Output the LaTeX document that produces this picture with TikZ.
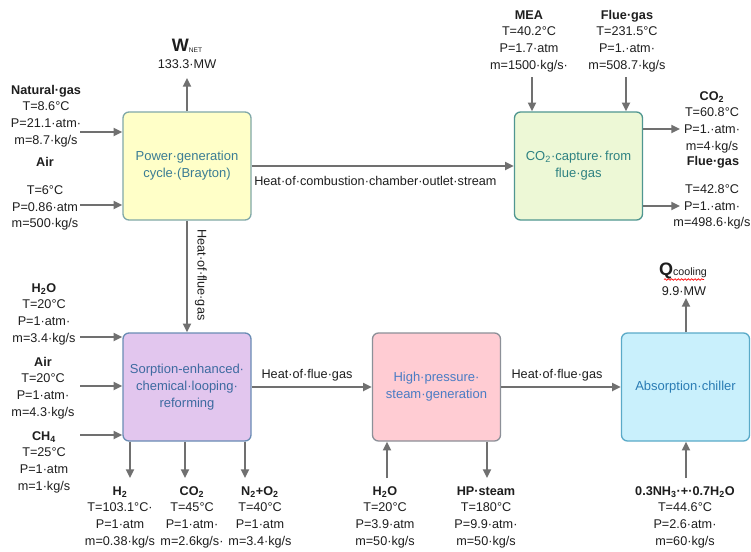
\documentclass[tikz,border=0pt]{standalone}
\usepackage{fontspec}
\setmainfont{Liberation Sans}
\usetikzlibrary{arrows.meta,decorations.pathmorphing}
\definecolor{pgfill}{HTML}{FFFFC8}\definecolor{pgdraw}{HTML}{80A8A8}\definecolor{pgtext}{HTML}{3A7C94}
\definecolor{ccfill}{HTML}{EDF8D6}\definecolor{ccdraw}{HTML}{4F9690}\definecolor{cctext}{HTML}{2E8282}
\definecolor{srfill}{HTML}{E2C6EE}\definecolor{srdraw}{HTML}{6A8CB4}\definecolor{srtext}{HTML}{3D6AA0}
\definecolor{hpfill}{HTML}{FFCCD3}\definecolor{hpdraw}{HTML}{8C9098}\definecolor{hptext}{HTML}{4A7CC4}
\definecolor{acfill}{HTML}{C9F0FC}\definecolor{acdraw}{HTML}{5AAAC8}\definecolor{actext}{HTML}{2A7CB4}
\definecolor{arr}{HTML}{707070}\definecolor{txt}{HTML}{1E1E1E}
\begin{document}
\begin{tikzpicture}[x=0.75pt,y=-0.75pt,
  lbl/.style={font=\fontsize{9.5}{12.5}\selectfont, align=center, text=txt, inner sep=0pt},
  ttl/.style={font=\bfseries\fontsize{9.5}{12.5}\selectfont, text=txt, inner sep=0pt},
  procbox/.style={draw, rounded corners=4.5pt, line width=1pt, minimum width=96pt, minimum height=81pt,
    align=center, font=\fontsize{9.75}{12.8}\selectfont, inner sep=0pt},
  flow/.style={draw=arr, line width=1.4pt, -{Triangle[length=6.5pt,width=6pt]}},
  plain/.style={draw=arr, line width=1.4pt}]
\useasboundingbox (0,0) rectangle (751,551);
\fill[white] (0,0) rectangle (751,551);

% process boxes
\node[procbox, fill=pgfill, draw=pgdraw, text=pgtext] (pg) at (187,166) {Power·generation\\cycle·(Brayton)};
\node[procbox, fill=ccfill, draw=ccdraw, text=cctext] (cc) at (578.5,166) {CO\textsubscript{2}·capture·\,from\\flue·gas};
\node[procbox, fill=srfill, draw=srdraw, text=srtext] (sr) at (187,387) {Sorption-enhanced·\\chemical·looping·\\reforming};
\node[procbox, fill=hpfill, draw=hpdraw, text=hptext] (hp) at (436.5,387) {High·pressure·\\steam·generation};
\node[procbox, fill=acfill, draw=acdraw, text=actext] (ac) at (685.5,387) {Absorption·chiller};

% coordinates for free ends
\coordinate (wnet) at (187,78);
\coordinate (ngin) at (80,132);
\coordinate (airin) at (80,205);
\coordinate (meain) at (532,77);
\coordinate (fgin) at (626,77);
\coordinate (co2out) at (680,129);
\coordinate (fgout) at (680,206);
\coordinate (h2oin) at (80,337);
\coordinate (air2in) at (80,386);
\coordinate (ch4in) at (80,435);
\coordinate (h2out) at (130,478);
\coordinate (co2bout) at (185,478);
\coordinate (n2out) at (245,478);
\coordinate (hpwin) at (387,478);
\coordinate (hpsout) at (487,478);
\coordinate (nh3in) at (686,478);
\coordinate (qout) at (686,298);

% connectors
\draw[flow] (pg.north) -- (wnet);
\draw[flow] (ngin) -- (ngin -| pg.west);
\draw[flow] (airin) -- (airin -| pg.west);
\draw[flow] (pg.east) -- (cc.west);
\draw[flow] (meain) -- (meain |- cc.north);
\draw[flow] (fgin) -- (fgin |- cc.north);
\draw[flow] (co2out -| cc.east) -- (co2out);
\draw[flow] (fgout -| cc.east) -- (fgout);
\draw[flow] (pg.south) -- (sr.north);
\draw[flow] (h2oin) -- (h2oin -| sr.west);
\draw[flow] (air2in) -- (air2in -| sr.west);
\draw[flow] (ch4in) -- (ch4in -| sr.west);
\draw[flow] (sr.east) -- (hp.west);
\draw[flow] (hp.east) -- (ac.west);
\draw[flow] (h2out |- sr.south) -- (h2out);
\draw[flow] (co2bout |- sr.south) -- (co2bout);
\draw[flow] (n2out |- sr.south) -- (n2out);
\draw[flow] (hpwin) -- (hpwin |- hp.south);
\draw[flow] (hpsout |- hp.south) -- (hpsout);
\draw[flow] (nh3in) -- (nh3in |- ac.south);
\draw[flow] (qout |- ac.north) -- (qout);

% connector labels
\node[lbl, anchor=west] (lhc) at (254,181) {Heat·of·combustion·chamber·outlet·stream};
\node[lbl, rotate=-90] (lhf1) at (201,275) {Heat·of·flue·gas};
\node[lbl] (lhf2) at (307,375) {Heat·of·flue·gas};
\node[lbl] (lhf3) at (557,375) {Heat·of·flue·gas};

% W net and Q cooling
\node[inner sep=0pt, text=txt] (wt) at (187,46) {{\bfseries\fontsize{13.5}{14}\selectfont W}\raisebox{-1pt}{\fontsize{5}{6}\selectfont NET}};
\node[lbl] (wv) at (187,64) {133.3·MW};
\node[inner sep=0pt, text=txt] (qt) at (683,271) {{\bfseries\fontsize{13.5}{14}\selectfont Q}{\fontsize{8}{9}\selectfont cooling}};
\draw[red, line width=0.5pt, decorate, decoration={snake, amplitude=0.6pt, segment length=2.5pt}] (664,279.5) -- (704,279.5);
\node[lbl] (qv) at (684,291) {9.9·MW};

% stream labels
\node[lbl] (ng) at (46,116) {\textbf{Natural·gas}\\T=8.6°C\\P=21.1·atm·\\m=8.7·kg/s};
\node[ttl] (airt) at (45,162) {Air};
\node[lbl] (air) at (45,208) {T=6°C\\P=0.86·atm\\m=500·kg/s};
\node[lbl] (mea) at (529,41) {\textbf{MEA}\\T=40.2°C\\P=1.7·atm\\m=1500·kg/s·};
\node[lbl] (fg) at (627,41) {\textbf{Flue·gas}\\T=231.5°C\\P=1.·atm·\\m=508.7·kg/s};
\node[lbl] (co2r) at (712,122) {\textbf{CO\textsubscript{2}}\\T=60.8°C\\P=1.·atm·\\m=4·kg/s};
\node[ttl] (fgrt) at (713,162) {Flue·gas};
\node[lbl] (fgr) at (712,207) {T=42.8°C\\P=1.·atm·\\m=498.6·kg/s};
\node[lbl] (h2o) at (44,314) {\textbf{H\textsubscript{2}O}\\T=20°C\\P=1·atm·\\m=3.4·kg/s};
\node[lbl] (air2) at (43,388) {\textbf{Air}\\T=20°C\\P=1·atm·\\m=4.3·kg/s};
\node[lbl] (ch4) at (44,462) {\textbf{CH\textsubscript{4}}\\T=25°C\\P=1·atm\\m=1·kg/s};
\node[lbl] (h2) at (120,517) {\textbf{H\textsubscript{2}}\\T=103.1°C·\\P=1·atm\\m=0.38·kg/s};
\node[lbl] (co2b) at (192,517) {\textbf{CO\textsubscript{2}}\\T=45°C\\P=1·atm·\\m=2.6kg/s·};
\node[lbl] (n2o2) at (260,517) {\textbf{N\textsubscript{2}+O\textsubscript{2}}\\T=40°C\\P=1·atm\\m=3.4·kg/s};
\node[lbl] (hpw) at (385,517) {\textbf{H\textsubscript{2}O}\\T=20°C\\P=3.9·atm\\m=50·kg/s};
\node[lbl] (hps) at (486,517) {\textbf{HP·steam}\\T=180°C\\P=9.9·atm·\\m=50·kg/s};
\node[lbl] (nh3) at (685,517) {\textbf{0.3NH\textsubscript{3}·+·0.7H\textsubscript{2}O}\\T=44.6°C\\P=2.6·atm·\\m=60·kg/s};
\end{tikzpicture}
\end{document}
